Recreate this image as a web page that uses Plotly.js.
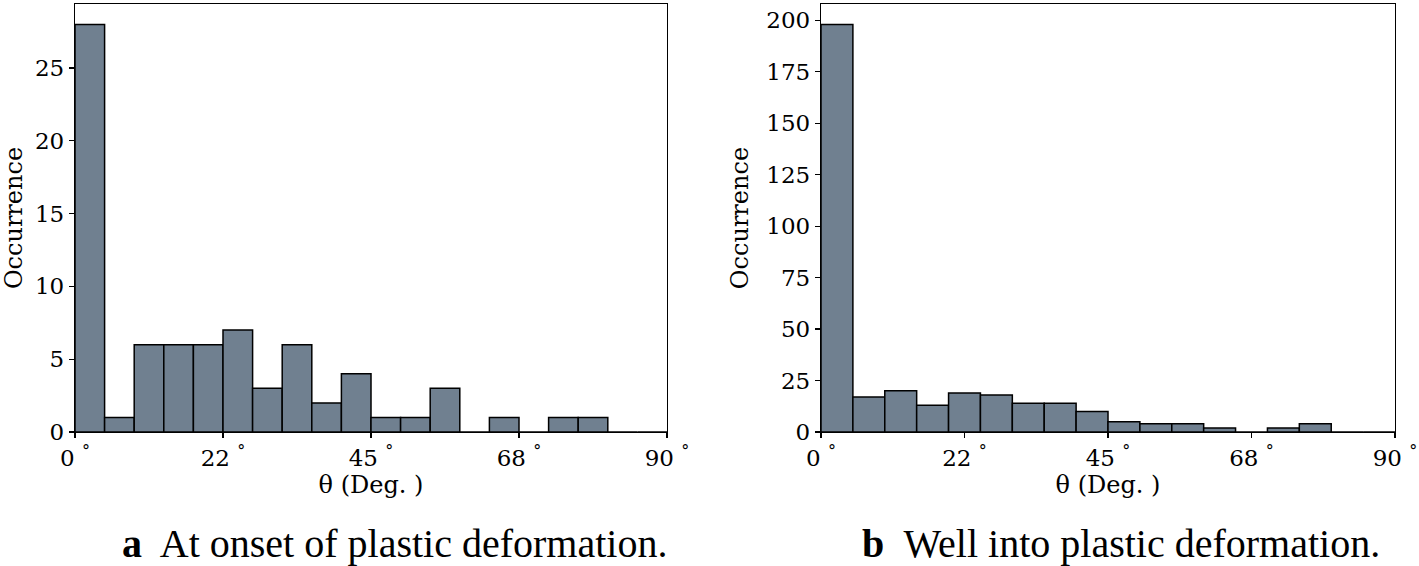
<!DOCTYPE html>
<html>
<head>
<meta charset="utf-8">
<script src="https://cdn.plot.ly/plotly-3.0.1.min.js"></script>
<style>html,body{margin:0;padding:0;background:#fff;}#chart{width:1419px;height:566px;}</style>
</head>
<body>
<div id="chart"></div>
<script>
// Panel a: bins of 4.5 degrees from 0 to 90
const binWidthA = 4.5;
const countsA = [28, 1, 6, 6, 6, 7, 3, 6, 2, 4, 1, 1, 3, 0, 1, 0, 1, 1, 0, 0];
// Panel b: bins of 5 degrees from 0 to 90
const binWidthB = 5;
const countsB = [198, 17, 20, 13, 19, 18, 14, 14, 10, 5, 4, 4, 2, 0, 2, 4, 0, 0];

const xTickVals = [0, 22.5, 45, 67.5, 90];
const xTickText = ['0 <sup>°</sup>', '22 <sup>°</sup>', '45 <sup>°</sup>', '68 <sup>°</sup>', '90 <sup>°</sup>'];
const captionA = '<b>a</b>  At onset of plastic deformation.';
const captionB = '<b>b</b>  Well into plastic deformation.';
const yTitle = 'Occurrence';
const xTitle = 'θ (Deg. )';

function centers(counts, w) { return counts.map((_, i) => i * w + w / 2); }

const barColor = '#708090';
const traceA = {
  type: 'bar', x: centers(countsA, binWidthA), y: countsA, width: binWidthA,
  marker: {color: barColor, line: {color: '#000', width: 1.5}},
  xaxis: 'x', yaxis: 'y', hoverinfo: 'x+y'
};
const traceB = {
  type: 'bar', x: centers(countsB, binWidthB), y: countsB, width: binWidthB,
  marker: {color: barColor, line: {color: '#000', width: 1.5}},
  xaxis: 'x2', yaxis: 'y2', hoverinfo: 'x+y'
};

const W = 1419, H = 566;
const tickFont = {family: 'DejaVu Serif', size: 23, color: '#000'};
const titleFont = {family: 'DejaVu Serif', size: 24, color: '#000'};
const yDom = [1 - 432 / H, 1 - 4 / H];

function xax(dom) {
  return {
    domain: dom, range: [0, 90], tickmode: 'array', tickvals: xTickVals, ticktext: xTickText,
    ticks: 'outside', ticklen: 5, tickwidth: 1.2, tickcolor: '#000',
    showline: true, linecolor: '#000', linewidth: 1.2, mirror: true,
    showgrid: false, zeroline: false, tickfont: tickFont,
    title: {text: xTitle, font: titleFont, standoff: 6}
  };
}
function yax(anchor, maxv, dtick, standoff) {
  return {
    domain: yDom, range: [0, maxv * 1.05], dtick: dtick, anchor: anchor,
    ticks: 'outside', ticklen: 5, tickwidth: 1.2, tickcolor: '#000',
    showline: true, linecolor: '#000', linewidth: 1.2, mirror: true,
    showgrid: false, zeroline: false, tickfont: tickFont,
    title: {text: yTitle, font: titleFont, standoff: standoff}
  };
}

const layout = {
  width: W, height: H,
  margin: {l: 0, r: 0, t: 0, b: 0},
  paper_bgcolor: '#fff', plot_bgcolor: '#fff',
  showlegend: false, bargap: 0,
  xaxis: Object.assign(xax([75 / W, 667 / W]), {anchor: 'y'}),
  yaxis: yax('x', Math.max(...countsA), 5, 6),
  xaxis2: Object.assign(xax([821 / W, 1395 / W]), {anchor: 'y2'}),
  yaxis2: yax('x2', Math.max(...countsB), 25, 10),
  annotations: [
    {text: captionA, xref: 'paper', yref: 'paper', x: 394 / W, y: 1 - 543 / H, xanchor: 'center', yanchor: 'middle',
     showarrow: false, font: {family: 'Liberation Serif', size: 40, color: '#000'}},
    {text: captionB, xref: 'paper', yref: 'paper', x: 1121 / W, y: 1 - 543 / H, xanchor: 'center', yanchor: 'middle',
     showarrow: false, font: {family: 'Liberation Serif', size: 40, color: '#000'}}
  ]
};

Plotly.newPlot('chart', [traceA, traceB], layout, {displayModeBar: false, staticPlot: true});
</script>
</body>
</html>
